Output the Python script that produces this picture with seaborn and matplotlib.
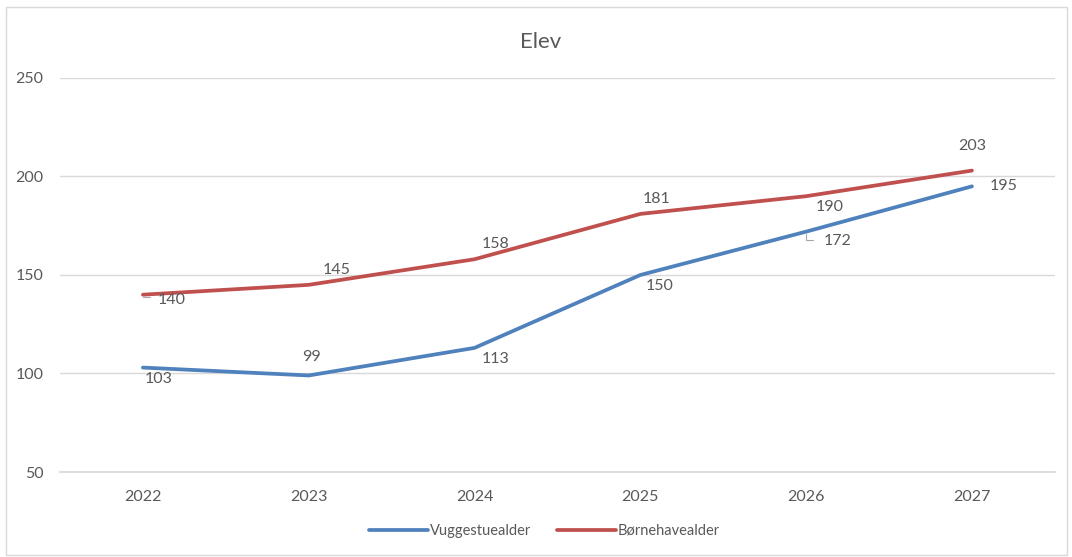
import matplotlib
matplotlib.use("Agg")
import matplotlib.pyplot as plt
import seaborn as sns
import pandas as pd
from matplotlib.patches import Rectangle
from matplotlib.lines import Line2D

years = ["2022", "2023", "2024", "2025", "2026", "2027"]
vuggestue = [103, 99, 113, 150, 172, 195]
boernehave = [140, 145, 158, 181, 190, 203]
series_names = ["Vuggestuealder", "Børnehavealder"]
title = "Elev"

sns.set_theme(style="white")
plt.rcParams['font.family'] = ['Lato', 'DejaVu Sans']

blue = "#4F81BD"
red = "#C0504D"
txt = "#595959"

df = pd.DataFrame({
    "x": list(range(len(years))) * 2,
    "value": vuggestue + boernehave,
    "serie": [series_names[0]] * len(years) + [series_names[1]] * len(years),
})

fig = plt.figure(figsize=(10.72, 5.57), dpi=100)
ax = fig.add_axes([0.056, 0.1526, 0.928, 0.7074])

sns.lineplot(data=df, x="x", y="value", hue="serie", palette=[blue, red],
             linewidth=2.7, ax=ax, legend=False)

ax.set_xlim(-0.5, len(years) - 0.5)
ax.set_ylim(50, 250)
ax.set_yticks([50, 100, 150, 200, 250])
ax.set_xticks(range(len(years)))
ax.set_xticklabels(years)
ax.grid(axis="y", color="#D9D9D9", linewidth=1)
ax.set_axisbelow(True)
for s in ["top", "right", "left"]:
    ax.spines[s].set_visible(False)
ax.spines["bottom"].set_color("#D9D9D9")
ax.tick_params(axis="both", length=0, labelsize=11.5, colors=txt)
ax.tick_params(axis="x", pad=13)
ax.tick_params(axis="y", pad=12)
ax.set_xlabel("")
ax.set_ylabel("")

fs = 11.5
off_v = [(11, -8), (2, 13), (15, -8), (14, -8), (23, -7), (23, 0)]
off_b = [(21, -4), (20, 11), (15, 11), (12, 11), (17, -8), (0, 18)]
for i, v in enumerate(vuggestue):
    ax.annotate(str(v), (i, v), xytext=off_v[i], textcoords="offset points",
                ha="center", va="center", fontsize=fs, color=txt)
for i, v in enumerate(boernehave):
    ax.annotate(str(v), (i, v), xytext=off_b[i], textcoords="offset points",
                ha="center", va="center", fontsize=fs, color=txt)

# small leader lines
for (xi, yi, dx, dy) in [(0, 140, 7, -2), (4, 172, 7, -6)]:
    ax.annotate("", (xi, yi), xytext=(dx, dy), textcoords="offset points",
                arrowprops=dict(arrowstyle="-", color="#A6A6A6", lw=0.8,
                                connectionstyle="angle,angleA=0,angleB=90,rad=0"))

fig.text(0.504, 0.925, title, ha="center", va="center", fontsize=16, color=txt)

handles = [Line2D([0], [0], color=blue, lw=2.7), Line2D([0], [0], color=red, lw=2.7)]
fig.legend(handles, series_names, loc="center", bbox_to_anchor=(0.508, 0.047),
           ncol=2, frameon=False, fontsize=10.5, labelcolor=txt,
           handlelength=4.0, handletextpad=0.15, columnspacing=1.8)

fig.patches.append(Rectangle((0.006, 0.004), 0.989, 0.983, transform=fig.transFigure,
                             fill=False, edgecolor="#D9D9D9", linewidth=1))

fig.savefig("out.png", dpi=100)
